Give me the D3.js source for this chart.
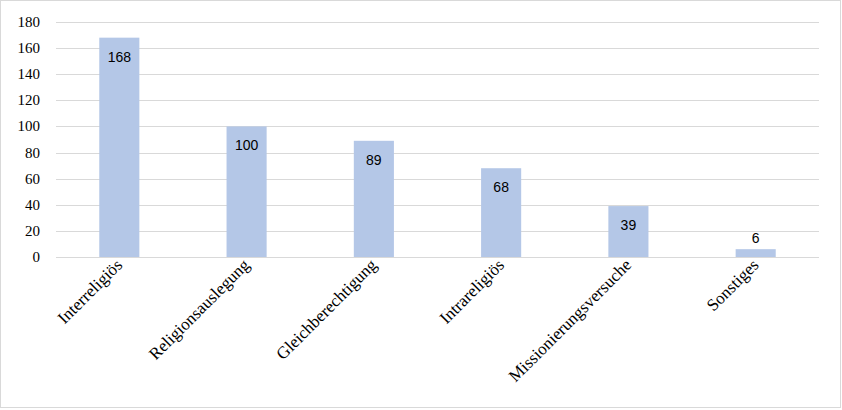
<!DOCTYPE html>
<html><head><meta charset="utf-8">
<script src="https://cdn.jsdelivr.net/npm/d3@7"></script>
<style>body{margin:0;background:#fff}</style>
</head><body>
<svg id="chart" width="842" height="410"></svg>
<script>
// chart data
var categories = ["Interreligiös", "Religionsauslegung", "Gleichberechtigung", "Intrareligiös", "Missionierungsversuche", "Sonstiges"];
var values = [168, 100, 89, 68, 39, 6];
var yTicks = [0, 20, 40, 60, 80, 100, 120, 140, 160, 180];

var svg = d3.select("#chart");
svg.append("rect").attr("x", 0.5).attr("y", 0.5).attr("width", 840).attr("height", 407)
    .attr("fill", "#fff").attr("stroke", "#d9d9d9");

var x = d3.scaleBand().domain(categories).range([56, 819]).paddingInner(0.685).paddingOuter(0.34);
var y = d3.scaleLinear().domain([0, 180]).range([257, 22]);

// grid lines
svg.append("g").selectAll("line").data(yTicks).enter().append("line")
    .attr("x1", 56).attr("x2", 819)
    .attr("y1", function(d) { return Math.round(y(d)) + 0.5; })
    .attr("y2", function(d) { return Math.round(y(d)) + 0.5; })
    .attr("stroke", "#d9d9d9");

// y labels
svg.append("g").selectAll("text").data(yTicks).enter().append("text")
    .attr("x", 40).attr("y", function(d) { return y(d) + 5; })
    .attr("text-anchor", "end")
    .style("font", "15px 'Liberation Serif'").attr("fill", "#000")
    .text(function(d) { return d; });

// bars
svg.append("g").selectAll("rect").data(values).enter().append("rect")
    .attr("x", function(d, i) { return x(categories[i]); })
    .attr("y", function(d) { return y(d); })
    .attr("width", x.bandwidth())
    .attr("height", function(d) { return y(0) - y(d); })
    .attr("fill", "#b4c7e7");

// value labels
svg.append("g").selectAll("text").data(values).enter().append("text")
    .attr("x", function(d, i) { return x(categories[i]) + x.bandwidth() / 2; })
    .attr("y", function(d) { return d < 20 ? y(d) - 6 : y(d) + 24; })
    .attr("text-anchor", "middle")
    .style("font", "14px 'Liberation Sans'").attr("fill", "#000")
    .text(function(d) { return d; });

// category labels rotated
svg.append("g").selectAll("text").data(categories).enter().append("text")
    .attr("transform", function(d) {
        return "translate(" + (x(d) + x.bandwidth() / 2 + 4) + ",266) rotate(-45)";
    })
    .attr("text-anchor", "end")
    .style("font", "17px 'Liberation Serif'").attr("fill", "#000")
    .text(function(d) { return d; });
</script>
</body></html>
